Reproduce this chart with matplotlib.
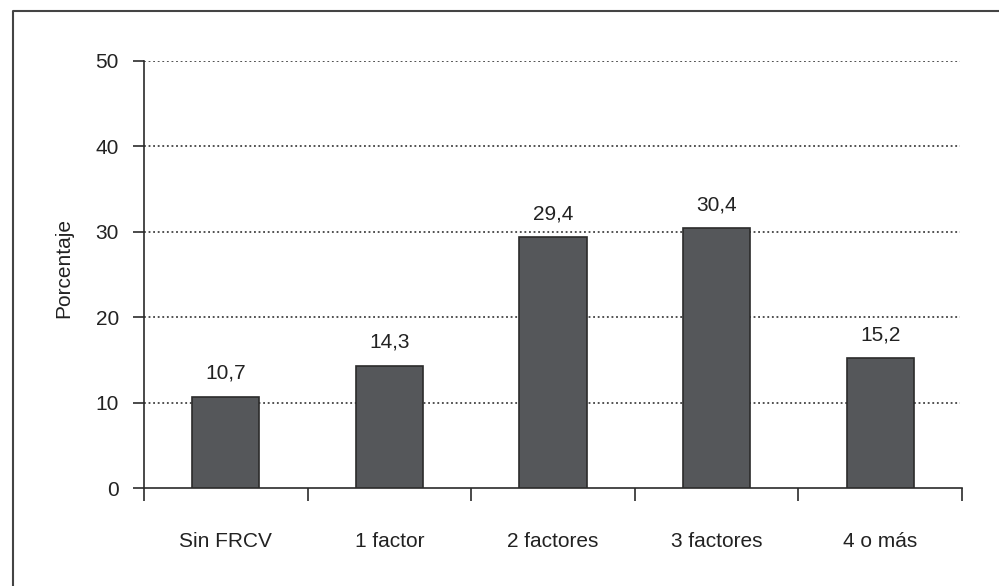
import matplotlib
matplotlib.use("Agg")
import matplotlib.pyplot as plt
from matplotlib.lines import Line2D

categories = ["Sin FRCV", "1 factor", "2 factores", "3 factores", "4 o más"]
values = [10.7, 14.3, 29.4, 30.4, 15.2]
value_labels = ["10,7", "14,3", "29,4", "30,4", "15,2"]
yticks = [0, 10, 20, 30, 40, 50]

plt.rcParams['font.family'] = ['Liberation Sans', 'DejaVu Sans']
txt = '#222222'
fs = 15

fig = plt.figure(figsize=(9.99, 5.86), dpi=100)
ax = fig.add_axes([144/999, 1-488/586, (962-144)/999, (488-61)/586])

x = list(range(len(categories)))
ax.bar(x, values, width=0.41, color='#55575a', edgecolor='#2b2b2b', linewidth=1.2, zorder=3)

for xi, v, lab in zip(x, values, value_labels):
    ax.annotate(lab, (xi, v), xytext=(0, 10), textcoords='offset points',
                ha='center', va='bottom', fontsize=fs, color=txt)

ax.set_xlim(-0.5, 4.5)
ax.set_ylim(0, 50)
ax.set_yticks(yticks)
ax.set_yticklabels([str(t) for t in yticks])
for t in yticks[1:]:
    ax.plot([-0.5, 4.49], [t, t], color='#222222', linestyle=(0, (1.2, 1.8)), linewidth=1.1, zorder=1)

ax.set_xticks([i - 0.5 for i in range(len(categories) + 1)])
ax.set_xticklabels([])
ax.set_xticks(x, minor=True)
ax.set_xticklabels(categories, minor=True)
ax.tick_params(axis='x', which='major', direction='out', length=9, width=1.2, color='#2b2b2b')
ax.tick_params(axis='x', which='minor', length=0, pad=32, labelsize=fs, labelcolor=txt)
ax.tick_params(axis='y', direction='out', length=8, width=1.2, color='#2b2b2b', pad=10,
               labelsize=fs, labelcolor=txt)

for s in ['top', 'right']:
    ax.spines[s].set_visible(False)
for s in ['left', 'bottom']:
    ax.spines[s].set_color('#2b2b2b')
    ax.spines[s].set_linewidth(1.2)

fig.text(64/999, 1-268/586, "Porcentaje", rotation=90, ha='center', va='center',
         fontsize=fs, color=txt)

# outer frame
fx = 12.5/999
fy = 1 - 10.5/586
fig.add_artist(Line2D([fx, fx, 1.0], [0.0, fy, fy], transform=fig.transFigure,
                      color='#444444', linewidth=1.5))

fig.savefig("out.png", dpi=100)
